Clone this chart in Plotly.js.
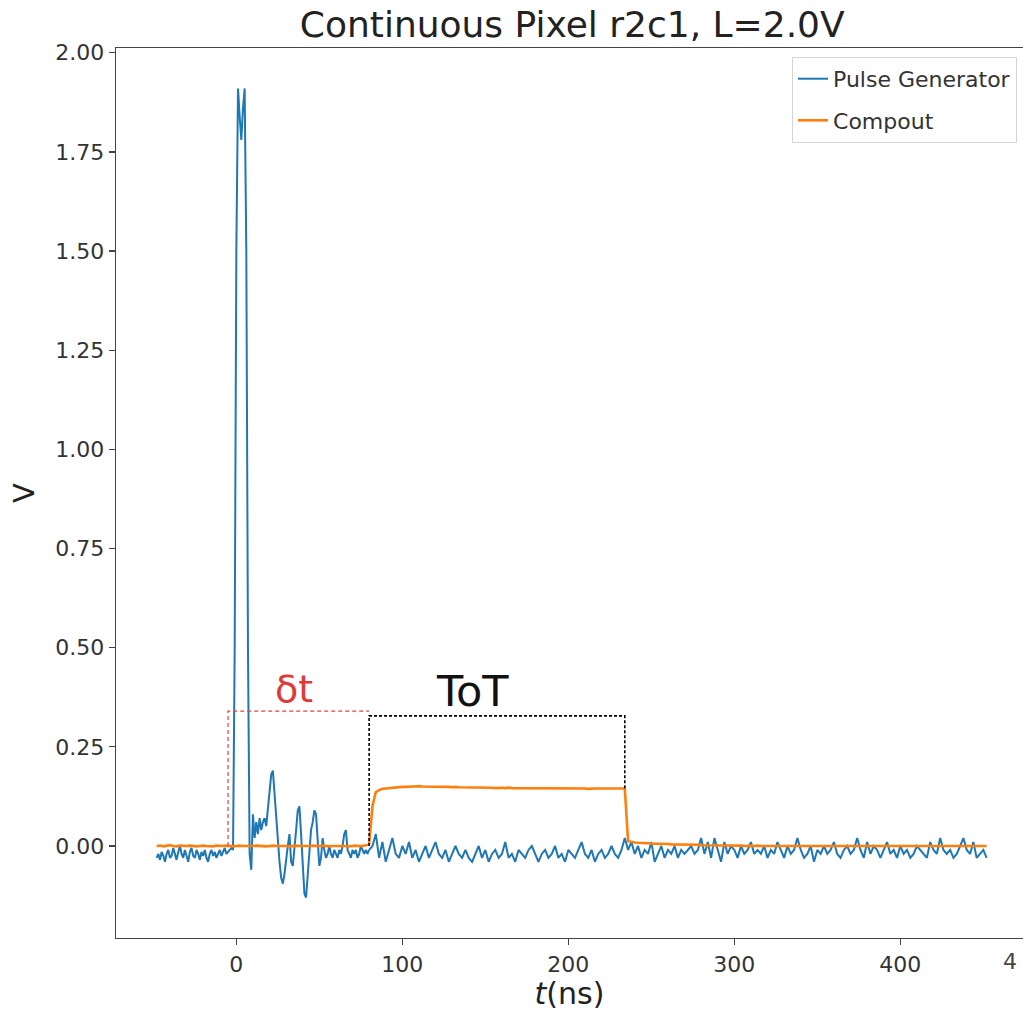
<!DOCTYPE html>
<html>
<head>
<meta charset="utf-8">
<script src="https://cdn.plot.ly/plotly-3.0.1.min.js"></script>
<style>html,body{margin:0;padding:0;overflow:hidden;background:#fff;}</style>
</head>
<body>
<div id="chart" style="width:1023px;height:1011px;"></div>
<script>
// Pulse Generator, fine part: t = -48 .. 80 ns, step 1 ns
const pulseStartT = -48;
const pulseFineStep = 1;
const pulseFine = [
  -0.030,-0.020,-0.035,-0.015,-0.025,-0.040,-0.020,-0.010,-0.030,-0.025,
  -0.005,-0.020,-0.035,-0.015,0.000,-0.020,-0.030,-0.010,-0.025,-0.040,
  -0.015,-0.005,-0.025,-0.030,-0.010,-0.020,-0.035,-0.015,-0.025,-0.010,
  -0.030,-0.040,-0.020,-0.010,-0.025,-0.015,-0.030,-0.020,-0.010,-0.025,
  -0.015,-0.005,-0.020,-0.015,-0.010,-0.005,-0.010,0.500,1.500,1.910,
  1.840,1.780,1.860,1.910,1.500,0.500,-0.020,-0.060,0.080,0.020,
  0.060,0.030,0.070,0.040,0.060,0.070,0.050,0.100,0.140,0.180,
  0.190,0.130,0.080,0.020,-0.040,-0.080,-0.095,-0.070,-0.030,0.000,
  0.030,-0.040,-0.050,-0.010,0.040,0.090,0.100,0.030,-0.060,-0.120,
  -0.130,-0.070,0.000,0.040,0.060,0.090,0.080,0.010,-0.050,-0.030,
  0.020,-0.010,-0.030,-0.020,0.000,-0.020,-0.030,-0.010,-0.020,-0.030,
  -0.010,-0.020,0.000,0.030,0.040,-0.010,-0.020,-0.030,-0.010,-0.020,
  -0.010,-0.030,-0.020,0.000,-0.010,-0.020,-0.010,-0.020,-0.010
];
// Pulse Generator, coarse part: t = 80 .. 452 ns, step 2 ns
const pulseCoarseStartT = 80;
const pulseCoarseStep = 2;
const pulseCoarse = [
  -0.010,0.000,0.030,-0.030,0.010,-0.040,-0.010,0.020,-0.020,-0.030,
  0.000,-0.020,0.010,-0.030,-0.010,-0.040,-0.020,0.000,-0.030,-0.010,
  0.010,-0.020,-0.030,-0.010,-0.040,-0.020,0.000,-0.020,-0.030,-0.010,
  -0.030,-0.040,-0.020,0.000,-0.030,-0.010,-0.040,-0.020,-0.010,-0.030,
  -0.020,0.010,-0.030,-0.020,-0.040,-0.010,-0.020,-0.030,-0.010,0.000,
  -0.020,-0.040,-0.020,-0.010,-0.030,-0.020,0.000,-0.030,-0.020,-0.040,
  -0.010,-0.020,-0.030,-0.010,0.010,-0.020,-0.030,-0.010,-0.040,-0.020,
  -0.010,-0.030,-0.020,0.000,-0.020,-0.030,-0.010,0.020,-0.010,0.010,
  -0.020,0.000,-0.030,-0.010,-0.020,0.010,-0.040,-0.020,0.000,-0.030,
  -0.010,-0.020,0.000,-0.030,-0.010,-0.020,-0.010,0.000,-0.020,-0.010,
  0.020,-0.020,0.010,-0.030,0.020,-0.010,-0.040,0.010,-0.020,0.000,
  -0.010,-0.030,0.000,-0.020,-0.010,0.010,-0.020,-0.010,-0.020,0.000,
  -0.030,-0.010,-0.020,0.010,-0.010,-0.030,0.000,-0.020,-0.010,0.020,
  -0.010,-0.030,-0.020,0.000,-0.040,-0.010,-0.020,0.000,-0.020,-0.010,
  0.010,-0.020,-0.030,-0.010,0.000,-0.020,-0.010,0.020,-0.010,-0.030,
  0.010,-0.020,0.000,-0.010,-0.030,-0.010,0.010,-0.020,-0.010,-0.030,
  0.000,-0.020,-0.010,-0.030,-0.020,0.000,-0.010,-0.020,-0.030,0.010,
  -0.010,-0.020,0.020,-0.010,-0.020,-0.010,-0.030,-0.020,0.000,0.020,
  -0.010,-0.020,0.010,-0.030,-0.020,-0.010,-0.030
];
// Compout: t = -48 .. 452 ns, step 2 ns
const compStartT = -48;
const compStep = 2;
const compout = [
  0.000,0.001,-0.001,0.000,0.002,0.000,-0.001,0.001,0.000,0.000,
  0.001,0.000,-0.001,0.000,0.001,0.000,0.000,-0.001,0.001,0.000,
  0.000,0.001,0.000,-0.001,0.000,0.001,0.000,0.000,-0.001,0.000,
  0.001,0.000,0.000,-0.001,0.000,0.001,0.000,0.000,0.001,0.000,
  -0.001,0.000,0.001,0.000,0.000,-0.001,0.000,0.001,0.000,0.000,
  0.001,0.000,-0.001,0.000,0.000,0.001,0.000,0.000,-0.001,0.000,
  0.001,0.000,0.000,0.002,
  0.005,0.100,0.136,0.141,0.144,0.145,0.146,0.147,0.148,0.148,
  0.149,0.149,0.150,0.150,0.150,0.151,0.150,0.150,0.150,0.149,
  0.149,0.149,0.150,0.149,0.149,0.148,0.149,0.148,0.148,0.148,
  0.148,0.148,0.147,0.148,0.147,0.147,0.147,0.147,0.146,0.147,
  0.147,0.146,0.147,0.146,0.146,0.146,0.146,0.146,0.146,0.145,
  0.146,0.146,0.145,0.146,0.145,0.145,0.146,0.145,0.145,0.145,
  0.145,0.145,0.145,0.146,0.145,0.145,0.144,0.145,0.145,0.145,
  0.145,0.144,0.145,0.145,0.144,0.145,0.144,0.145,
  0.012,0.010,0.009,0.008,0.008,0.007,0.007,0.006,0.006,0.006,
  0.005,0.005,0.005,0.004,0.004,0.004,0.004,0.003,0.003,0.003,
  0.003,0.003,0.002,0.002,0.002,0.002,0.002,0.002,0.001,0.002,
  0.001,0.001,0.001,0.001,0.001,0.000,0.001,0.001,0.000,0.001,
  0.000,0.000,0.001,0.000,0.000,0.001,0.000,0.000,0.000,0.001,
  0.000,0.000,0.000,0.001,0.000,0.000,0.000,0.000,0.001,0.000,
  0.000,0.000,0.000,0.000,0.001,0.000,0.000,0.000,0.000,0.000,
  0.001,0.000,0.000,0.000,0.000,0.000,0.001,0.000,0.000,0.000,
  0.000,0.000,0.000,0.001,0.000,0.000,0.000,0.000,0.000,0.001,
  0.000,0.000,0.000,0.000,0.000,0.000,0.001,0.000,0.000,0.000,
  0.000,0.000,0.000,0.001,0.000,0.000,0.000,0.000,0.000
];
// Hand-drawn marker boxes
const deltaTBoxX = [-5, -5, 80];
const deltaTBoxY = [0, 0.340, 0.340];
const totBoxX = [80, 80, 234, 234];
const totBoxY = [0, 0.328, 0.328, 0.145];
const deltaTLabel = {text: "δt", x: 35, y: 0.395};
const totLabel = {text: "ToT", x: 142, y: 0.39};

const seriesNames = ["Pulse Generator", "Compout"];
const xTicks = [0, 100, 200, 300, 400];
const yTicks = [0, 0.25, 0.5, 0.75, 1.0, 1.25, 1.5, 1.75, 2.0];

const blue = "#1f77b4", orange = "#ff7f0e";
const font = "DejaVu Sans, sans-serif";

const traces = [
  {type: "scatter", mode: "lines", name: seriesNames[0], legendgroup: "pg",
   x0: pulseStartT, dx: pulseFineStep, y: pulseFine,
   line: {color: blue, width: 2}},
  {type: "scatter", mode: "lines", name: seriesNames[0], legendgroup: "pg", showlegend: false,
   x0: pulseCoarseStartT, dx: pulseCoarseStep, y: pulseCoarse,
   line: {color: blue, width: 2}},
  {type: "scatter", mode: "lines", name: seriesNames[1],
   x0: compStartT, dx: compStep, y: compout,
   line: {color: orange, width: 2.6}},
  {type: "scatter", mode: "lines", showlegend: false, hoverinfo: "skip",
   x: deltaTBoxX, y: deltaTBoxY, line: {color: "#e8413c", width: 1.2, dash: "4px,3px"}},
  {type: "scatter", mode: "lines", showlegend: false, hoverinfo: "skip",
   x: totBoxX, y: totBoxY, line: {color: "#000", width: 1.6, dash: "3px,2px"}}
];

const axisCommon = {
  showgrid: false, zeroline: false, showline: true, linecolor: "#444", linewidth: 1.3,
  ticks: "outside", ticklen: 6, tickwidth: 1.3, tickcolor: "#444",
  tickfont: {family: font, size: 22, color: "#333"}
};

const layout = {
  width: 1023, height: 1011,
  margin: {l: 116, r: 0, t: 48, b: 73},
  paper_bgcolor: "#fff", plot_bgcolor: "#fff",
  title: {text: "Continuous Pixel r2c1, L=2.0V", font: {family: font, size: 36, color: "#222"},
          xref: "paper", x: 0.503, xanchor: "center", yref: "container", y: 0.976, yanchor: "middle"},
  xaxis: Object.assign({}, axisCommon, {
    range: [-72.5, 473.9], tickvals: xTicks, ticktext: xTicks.map(String), mirror: true,
    title: {text: "<i>t</i>(ns)", font: {family: font, size: 30, color: "#222"}, standoff: 4}
  }),
  yaxis: Object.assign({}, axisCommon, {
    range: [-0.232, 2.012], tickvals: yTicks, ticktext: yTicks.map(v => v.toFixed(2)),
    title: {text: "V", font: {family: font, size: 29, color: "#222"}, standoff: 12}
  }),
  legend: {x: 0.9934, xanchor: "right", y: 0.99, yanchor: "top",
           bgcolor: "rgba(255,255,255,0.9)", bordercolor: "#d6d6d6", borderwidth: 1,
           font: {family: font, size: 22, color: "#333"}},
  showlegend: true,
  annotations: [
    {x: deltaTLabel.x, y: deltaTLabel.y, xref: "x", yref: "y", text: deltaTLabel.text, showarrow: false,
     font: {family: "DejaVu Sans, sans-serif", size: 38, color: "#e03a36"}},
    {x: totLabel.x, y: totLabel.y, xref: "x", yref: "y", text: totLabel.text, showarrow: false,
     font: {family: "DejaVu Sans, sans-serif", size: 43, color: "#111"}},
    {xref: "paper", yref: "paper", x: (1010 - 116) / 907, y: (938 - 961) / 890,
     text: "4", showarrow: false, xanchor: "center", yanchor: "middle",
     font: {family: font, size: 22, color: "#444"}}
  ]
};

Plotly.newPlot("chart", traces, layout, {displayModeBar: false, staticPlot: true});
</script>
</body>
</html>
